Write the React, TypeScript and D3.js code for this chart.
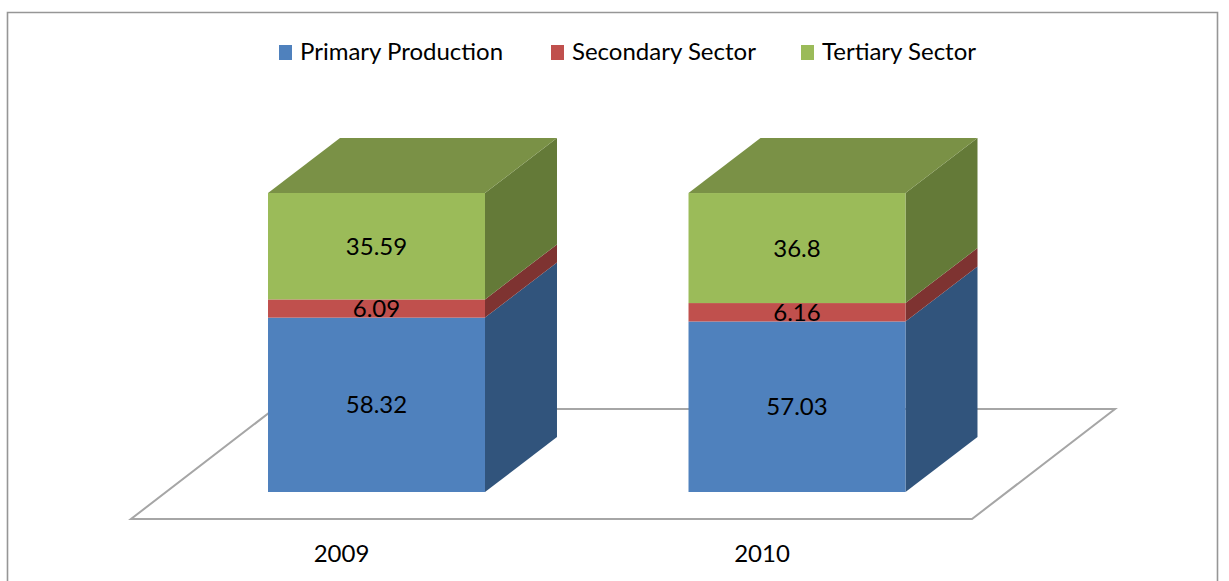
import React from "react";
import * as d3 from "d3";

const years = ["2009", "2010"];
const seriesNames = ["Primary Production", "Secondary Sector", "Tertiary Sector"];
const primary = [58.32, 57.03];
const secondary = [6.09, 6.16];
const tertiary = [35.59, 36.8];
const seriesValues = [primary, secondary, tertiary];
const frontColors = ["#4f81bd", "#c0504d", "#9bbb59"];
const sideColors = ["#31547c", "#7e3331", "#647a38"];
const topColors = ["#3f6797", "#9a403e", "#7a9146"];
const legendSwatchX = [279, 551, 801];
const legendTextX = [300, 572, 822];

const x = d3.scaleBand().domain(years).range([166.25, 1007.25]).paddingInner(0.484).paddingOuter(0.242);
const y = d3.scaleLinear().domain([0, 100]).range([492, 193]);
const depthX = 72;
const depthY = -55;
const line = d3.line();
const font = "Lato, Carlito, 'Open Sans', sans-serif";

export default function App() {
  const stacks = years.map((yr, i) => {
    let acc = 0;
    return seriesValues.map((vals, s) => {
      const y0 = acc;
      acc += vals[i];
      return { yr, s, v: vals[i], y0, y1: acc };
    });
  });
  return (
    <svg width={1229} height={581} style={{ position: "absolute", left: 0, top: 0, background: "#fff" }}>
      <path d="M7.5 581V12.5H1217.5V581" fill="none" stroke="#969696" strokeWidth={1.6} />
      <path
        d={line([[131, 519], [972, 519], [1115, 409], [274, 409]] as any) + "Z"}
        fill="#fff" stroke="#a6a6a6" strokeWidth={2}
      />
      {stacks.map((stack) => (
        <g key={stack[0].yr}>
          {stack.map((d) => {
            const left = x(d.yr)!;
            const right = left + x.bandwidth();
            const top = y(d.y1);
            const bot = y(d.y0);
            return (
              <g key={d.s}>
                <path
                  d={line([[right, bot], [right + depthX, bot + depthY], [right + depthX, top + depthY], [right, top]] as any) + "Z"}
                  fill={sideColors[d.s]}
                />
                <rect x={left} y={top} width={x.bandwidth()} height={bot - top} fill={frontColors[d.s]} />
                {d.s === 2 && (
                  <path
                    d={line([[left, top], [left + depthX, top + depthY], [right + depthX, top + depthY], [right, top]] as any) + "Z"}
                    fill={topColors[d.s]}
                  />
                )}
              </g>
            );
          })}
          {stack.map((d) => (
            <text
              key={d.s}
              x={x(d.yr)! + x.bandwidth() / 2}
              y={(y(d.y0) + y(d.y1)) / 2 + 8.5}
              textAnchor="middle"
              fontFamily={font}
              fontSize={24}
              fill="#000"
            >
              {d.v}
            </text>
          ))}
          <text
            x={x(stack[0].yr)! + x.bandwidth() / 2 - 35}
            y={562}
            textAnchor="middle"
            fontFamily={font}
            fontSize={24}
            fill="#000"
          >
            {stack[0].yr}
          </text>
        </g>
      ))}
      {seriesNames.map((name, i) => (
        <g key={name}>
          <rect x={legendSwatchX[i]} y={45} width={13} height={15} fill={frontColors[i]} />
          <text x={legendTextX[i]} y={60} fontFamily={font} fontSize={24} fill="#000">
            {name}
          </text>
        </g>
      ))}
    </svg>
  );
}
